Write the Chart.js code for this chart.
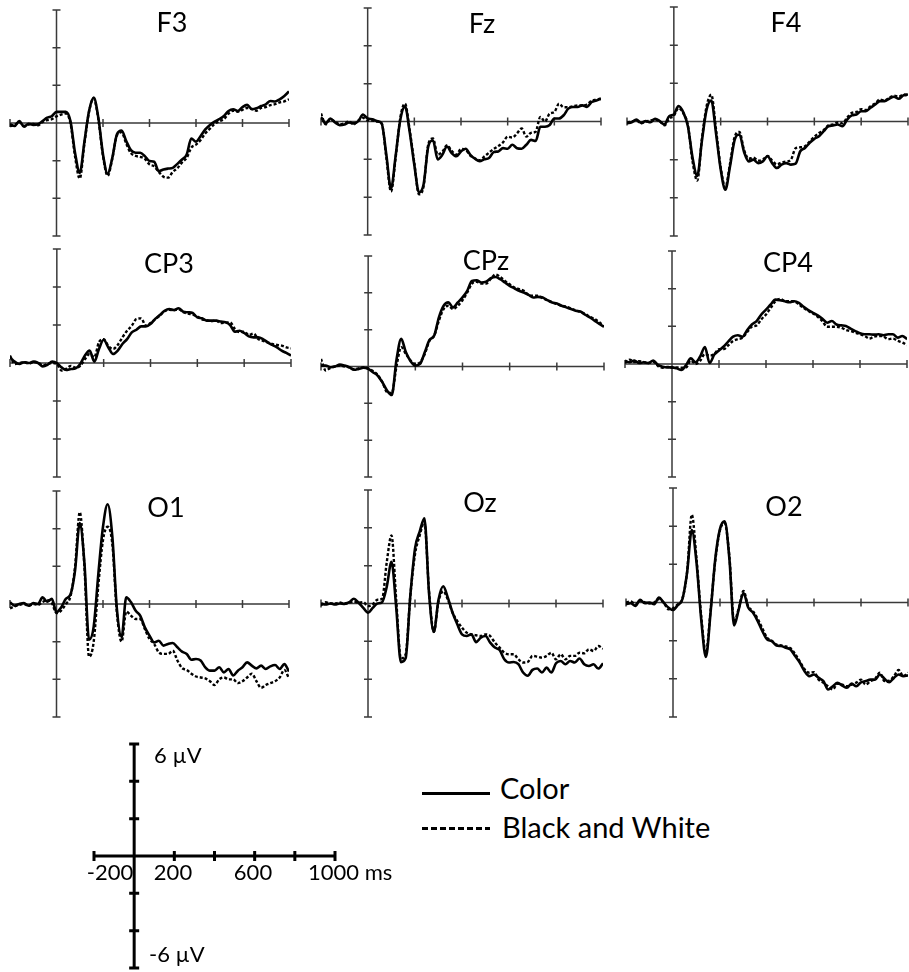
<!DOCTYPE html>
<html>
<head>
<meta charset="utf-8">
<script src="https://cdn.jsdelivr.net/npm/chart.js@4.4.0/dist/chart.umd.min.js"></script>
<style>
  body { margin: 0; background: #fff; width: 909px; height: 972px; position: relative; overflow: hidden; font-family: Lato, 'Noto Sans', sans-serif; }
  canvas { position: absolute; }
  .lbl { position: absolute; line-height: 1; white-space: nowrap; color: #000; }
  .title { font-size: 27px; width: 80px; text-align: center; }
  .scale { font-size: 22px; }
  .legend { font-size: 29px; }
  .swatch { position: absolute; left: 422px; width: 68px; height: 3px; }
</style>
</head>
<body>
<script>
  // sample times (ms)
  const times = [
    -200, -180, -160, -140, -120, -100, -80, -60, -40, -20,
    0, 20, 40, 60, 80, 100, 120, 140, 160, 180,
    200, 220, 240, 260, 280, 300, 320, 340, 360, 380,
    400, 420, 440, 460, 480, 500, 520, 540, 560, 580,
    600, 620, 640, 660, 680, 700, 720, 740, 760, 780,
    800, 820, 840, 860, 880, 900, 920, 940, 960, 980,
    1000,
  ];

  const xTicks = [-200, 0, 200, 400, 600, 800, 1000];
  const yTicks = [-6, -4, -2, 0, 2, 4, 6];

  // amplitudes (µV), Color = solid, BW = dotted
  const f3Color = [
    -0.07, -0.16, 0.1, -0.2, -0.04, -0.1, -0.07, 0.1, 0.28, 0.37,
    0.59, 0.59, 0.59, 0.1, -1.6, -2.65, -1.0, 0.64, 1.35, 0.28,
    -1.67, -2.7, -1.85, -0.6, -0.4, -0.96, -1.44, -1.58, -1.58, -1.76,
    -2.02, -2.06, -2.56, -2.47, -2.42, -2.38, -2.17, -1.94, -1.67, -0.82,
    -0.99, -0.69, -0.34, -0.1, 0.07, 0.2, 0.37, 0.64, 0.73, 0.64,
    0.85, 0.96, 0.73, 0.78, 0.9, 0.99, 1.17, 1.14, 1.26, 1.44,
    1.67,
  ];
  const f3BW = [
    -0.16, -0.1, 0.05, -0.15, -0.08, -0.05, -0.12, 0.05, 0.15, 0.2,
    0.35, 0.45, 0.5, 0.0, -1.8, -2.95, -1.1, 0.6, 1.3, 0.2,
    -1.75, -2.8, -1.9, -0.65, -0.5, -1.1, -1.6, -1.75, -1.8, -1.9,
    -2.2, -2.3, -2.6, -2.85, -2.9, -2.6, -2.4, -2.1, -1.85, -1.3,
    -1.15, -0.9, -0.55, -0.3, -0.05, 0.1, 0.2, 0.5, 0.65, 0.6,
    0.7, 0.8, 0.75, 0.65, 0.8, 0.85, 0.95, 1.0, 1.1, 1.15,
    1.26,
  ];
  const fzColor = [
    0.24, -0.1, 0.16, -0.05, -0.19, -0.16, -0.05, -0.1, 0.02, 0.37,
    0.16, 0.12, 0.02, -0.1, -1.76, -3.55, -1.8, 0.1, 0.8, -0.55,
    -2.3, -3.75, -3.3, -1.3, -1.0, -2.0, -1.76, -1.32, -1.67, -1.84,
    -1.58, -1.44, -1.76, -1.97, -2.1, -2.0, -1.93, -1.62, -1.58, -1.41,
    -1.44, -1.23, -1.41, -1.44, -1.23, -0.97, -1.03, -0.28, -0.28, -0.19,
    0.16, 0.16, 0.33, 0.68, 0.77, 0.77, 0.85, 0.77, 1.03, 1.11,
    1.2,
  ];
  const fzBW = [
    0.42, -0.15, 0.1, 0.0, -0.15, -0.1, 0.0, -0.15, 0.05, 0.2,
    0.05, 0.05, 0.0, -0.1, -1.9, -3.7, -1.9, 0.2, 0.95, -0.45,
    -2.2, -3.85, -3.4, -1.2, -0.9, -1.75, -1.6, -1.25, -1.55, -1.75,
    -1.45, -1.5, -1.8, -1.95, -2.05, -1.85, -1.65, -1.45, -1.3, -1.1,
    -0.8, -0.85, -0.63, -0.37, -0.8, -0.6, -0.54, 0.24, 0.0, 0.42,
    0.5, 0.94, 0.75, 0.75, 0.8, 0.85, 0.85, 0.9, 1.1, 1.15,
    1.22,
  ];
  const f4Color = [
    -0.1, -0.04, 0.1, -0.07, 0.02, -0.04, 0.14, 0.02, -0.16, 0.28,
    0.37, 0.81, 0.49, -0.25, -1.9, -2.85, -1.0, 0.63, 1.1, -0.6,
    -2.5, -3.58, -2.35, -0.95, -0.68, -1.6, -2.09, -2.0, -2.18, -2.09,
    -1.82, -2.18, -2.44, -2.26, -2.18, -2.26, -2.21, -1.56, -1.39, -1.12,
    -0.91, -0.77, -0.51, -0.25, -0.21, -0.16, -0.25, 0.1, 0.32, 0.37,
    0.54, 0.54, 0.72, 0.89, 1.07, 1.07, 1.19, 1.3, 1.19, 1.37,
    1.42,
  ];
  const f4BW = [
    -0.05, 0.0, 0.05, -0.1, 0.0, 0.05, 0.1, 0.0, -0.2, 0.15,
    0.3, 0.7, 0.45, -0.2, -2.1, -3.1, -0.9, 0.8, 1.4, -0.4,
    -2.4, -3.45, -2.2, -0.8, -0.55, -1.5, -1.95, -1.9, -2.05, -2.0,
    -1.8, -2.05, -2.25, -2.15, -2.1, -2.0, -1.4, -1.35, -1.3, -1.05,
    -0.8, -0.6, -0.45, -0.2, -0.15, -0.05, -0.1, 0.2, 0.45, 0.5,
    0.65, 0.6, 0.8, 0.95, 1.15, 1.1, 1.25, 1.35, 1.3, 1.4,
    1.35,
  ];
  const cp3Color = [
    0.3, 0.07, -0.05, 0.04, 0.0, 0.07, 0.0, -0.18, -0.1, 0.07,
    0.0, -0.23, -0.37, -0.32, -0.28, -0.05, 0.39, 0.65, 0.07, 0.74,
    1.22, 0.82, 0.47, 0.65, 1.0, 1.26, 1.61, 1.75, 1.93, 1.93,
    2.05, 2.32, 2.53, 2.75, 2.84, 2.79, 2.88, 2.7, 2.67, 2.63,
    2.4, 2.35, 2.23, 2.23, 2.23, 2.18, 2.14, 2.0, 1.65, 1.7,
    1.58, 1.4, 1.35, 1.35, 1.26, 1.09, 0.95, 0.82, 0.65, 0.53,
    0.39,
  ];
  const cp3BW = [
    0.39, -0.05, 0.0, 0.05, -0.03, 0.05, 0.02, -0.12, -0.05, 0.0,
    -0.05, -0.4, -0.3, -0.15, -0.25, -0.15, 0.2, 0.47, 0.3, 1.1,
    1.25, 0.9, 0.74, 0.95, 1.35, 1.7, 1.96, 2.32, 2.35, 1.96,
    2.1, 2.3, 2.5, 2.72, 2.8, 2.78, 2.82, 2.68, 2.6, 2.55,
    2.45, 2.3, 2.25, 2.2, 2.23, 2.1, 2.12, 2.14, 1.8, 1.62,
    1.65, 1.47, 1.55, 1.26, 1.17, 1.09, 1.0, 0.95, 0.91, 0.82,
    0.77,
  ];
  const cpzColor = [
    0.05, 0.05, -0.04, 0.0, 0.1, 0.05, -0.04, -0.18, -0.13, -0.07,
    -0.13, -0.31, -0.49, -0.85, -1.3, -1.55, 0.35, 1.5, 0.77, 0.29,
    0.05, 0.14, 0.77, 1.44, 1.68, 2.67, 3.3, 3.48, 3.21, 3.48,
    3.75, 4.11, 4.65, 4.68, 4.56, 4.61, 4.79, 4.86, 4.74, 4.56,
    4.38, 4.25, 4.11, 4.02, 3.89, 3.75, 3.78, 3.75, 3.6, 3.48,
    3.42, 3.3, 3.21, 3.12, 3.03, 2.99, 2.81, 2.67, 2.49, 2.31,
    2.16,
  ];
  const cpzBW = [
    0.41, -0.22, -0.07, 0.0, 0.05, 0.0, -0.05, -0.15, -0.1, -0.05,
    -0.1, -0.25, -0.45, -0.85, -1.39, -1.44, 0.0, 1.05, 0.68, 0.32,
    0.14, 0.23, 0.68, 1.4, 1.68, 2.49, 3.12, 3.3, 3.12, 3.3,
    3.6, 4.02, 4.5, 4.6, 4.5, 4.5, 4.77, 5.0, 4.86, 4.65,
    4.47, 4.29, 4.2, 4.11, 3.89, 3.84, 3.84, 3.71, 3.6, 3.48,
    3.39, 3.3, 3.25, 3.15, 3.05, 2.95, 2.85, 2.7, 2.58, 2.4,
    2.16,
  ];
  const cp4Color = [
    0.18, 0.09, 0.18, 0.05, 0.09, 0.05, 0.18, -0.05, -0.14, -0.18,
    -0.18, -0.23, -0.32, -0.05, 0.3, 0.09, 0.4, 0.9, 0.05, 0.5,
    0.72, 0.93, 1.2, 1.45, 1.53, 1.45, 1.8, 2.1, 2.28, 2.63,
    2.89, 3.16, 3.42, 3.39, 3.33, 3.28, 3.33, 3.25, 3.04, 2.86,
    2.72, 2.58, 2.4, 2.19, 2.28, 2.1, 2.05, 2.02, 1.88, 1.75,
    1.63, 1.58, 1.58, 1.56, 1.58, 1.53, 1.58, 1.58, 1.4, 1.49,
    1.32,
  ];
  const cp4BW = [
    0.05, 0.23, 0.1, 0.15, 0.1, 0.05, 0.12, -0.1, -0.2, -0.15,
    -0.2, -0.18, -0.2, -0.18, 0.18, 0.0, 0.18, 0.53, 0.44, 0.53,
    0.79, 0.79, 1.0, 1.23, 1.32, 1.4, 1.7, 1.98, 2.05, 2.37,
    2.63, 2.98, 3.33, 3.46, 3.33, 3.33, 3.33, 3.16, 2.98, 2.81,
    2.68, 2.51, 2.28, 1.98, 1.98, 1.98, 1.93, 1.81, 1.75, 1.67,
    1.58, 1.49, 1.35, 1.46, 1.49, 1.46, 1.32, 1.35, 1.23, 1.14,
    1.0,
  ];
  const o1Color = [
    0.09, -0.09, 0.0, 0.05, -0.09, 0.05, 0.0, 0.35, 0.12, 0.27,
    -0.44, -0.18, 0.27, 0.5, 1.8, 4.3, 2.2, -1.9, -1.2, 1.6,
    4.1, 5.3, 3.6, -0.3, -1.75, 0.35, 0.1, -0.35, -0.62, -1.24,
    -1.68, -2.04, -1.95, -2.21, -2.12, -2.07, -2.3, -2.53, -2.65, -2.96,
    -2.92, -3.0, -3.36, -3.54, -3.54, -3.36, -3.63, -3.45, -3.8, -3.54,
    -3.36, -3.1, -3.27, -3.42, -3.27, -3.45, -3.31, -3.24, -3.45, -3.19,
    -3.59,
  ];
  const o1BW = [
    -0.23, -0.12, -0.05, 0.0, -0.1, 0.0, -0.05, 0.1, 0.2, 0.05,
    -0.48, -0.35, 0.0, 0.4, 2.0, 4.87, 2.0, -2.8, -2.0, 1.0,
    3.4, 4.1, 3.2, -0.5, -2.0, -0.4, -0.62, -0.8, -0.8, -1.33,
    -1.86, -2.12, -2.57, -2.65, -2.65, -2.48, -3.0, -3.4, -3.5, -3.7,
    -3.85, -3.9, -3.95, -4.1, -4.3, -4.0, -3.9, -4.0, -4.0, -4.2,
    -4.1, -3.9, -3.7, -4.1, -4.45, -4.3, -4.2, -4.1, -3.9, -3.5,
    -3.95,
  ];
  const ozColor = [
    0.0, -0.05, 0.0, -0.05, 0.0, -0.02, 0.07, 0.25, 0.04, -0.23,
    -0.49, -0.23, 0.0, 0.07, 0.9, 2.2, -0.2, -3.1, -2.9, 0.4,
    2.9, 3.8, 4.5, 0.5, -1.5, 0.2, 0.91, 0.3, -0.49, -1.1,
    -1.63, -1.72, -1.63, -2.04, -1.81, -1.72, -2.07, -2.33, -2.46, -2.95,
    -3.12, -3.09, -3.21, -3.65, -3.82, -3.51, -3.44, -3.65, -3.39, -3.65,
    -3.16, -3.04, -3.21, -3.04, -3.12, -2.91, -3.21, -3.3, -3.21, -3.44,
    -3.16,
  ];
  const ozBW = [
    -0.1, 0.07, 0.0, 0.0, 0.05, 0.0, 0.05, 0.1, 0.05, 0.07,
    -0.14, -0.05, 0.2, 0.25, 2.2, 3.6, 0.2, -2.9, -2.7, 0.4,
    2.6, 3.6, 4.3, 0.6, -1.5, 0.1, 0.65, 0.2, -0.49, -0.93,
    -1.28, -1.54, -1.63, -1.68, -1.72, -1.63, -1.72, -2.07, -2.33, -2.6,
    -2.68, -2.68, -2.95, -3.12, -3.09, -2.77, -2.81, -2.86, -2.77, -2.6,
    -2.95, -2.68, -2.95, -2.77, -2.77, -2.6, -2.63, -2.42, -2.51, -2.25,
    -2.39,
  ];
  const o2Color = [
    -0.09, -0.04, -0.18, 0.14, -0.04, 0.0, -0.09, 0.26, 0.0, -0.26,
    -0.39, -0.14, 0.18, 1.58, 3.8, 2.1, -0.88, -2.85, -0.5, 2.3,
    3.86, 4.25, 2.28, -1.2, -0.35, 0.5, -0.26, -0.53, -0.96, -1.49,
    -1.93, -2.02, -2.25, -2.28, -2.37, -2.46, -2.81, -3.16, -3.6, -3.86,
    -3.77, -3.95, -4.12, -4.56, -4.39, -4.21, -4.35, -4.47, -4.25, -4.39,
    -4.18, -4.12, -4.04, -4.04, -3.77, -4.0, -4.18, -3.95, -3.77, -3.86,
    -3.82,
  ];
  const o2BW = [
    0.0, 0.05, -0.1, 0.1, 0.0, -0.05, 0.0, 0.18, 0.0, -0.35,
    -0.3, -0.1, 0.2, 1.6, 4.6, 2.3, -0.7, -2.63, -0.4, 2.2,
    3.8, 4.15, 2.4, -1.0, -0.3, 0.6, -0.2, -0.45, -0.85, -1.35,
    -1.84, -2.0, -2.2, -2.25, -2.3, -2.4, -2.7, -3.1, -3.5, -3.68,
    -3.65, -4.04, -4.2, -4.39, -4.56, -4.25, -4.3, -4.39, -4.3, -4.2,
    -4.04, -4.3, -4.12, -4.0, -3.68, -4.12, -4.1, -3.86, -3.54, -3.86,
    -3.68,
  ];

  // layout: box = [x of -200 ms, x of 1000 ms, y of +6 µV, y of -6 µV], title = centre
  const panels = [
    { name: 'F3', color: f3Color, bw: f3BW, box: [10, 289, 10, 236], title: [172, 22] },
    { name: 'Fz', color: fzColor, bw: fzBW, box: [321, 601, 8, 235], title: [482, 23] },
    { name: 'F4', color: f4Color, bw: f4BW, box: [627, 908, 7, 236], title: [786, 22] },
    { name: 'CP3', color: cp3Color, bw: cp3BW, box: [10, 291, 249, 477], title: [169, 263] },
    { name: 'CPz', color: cpzColor, bw: cpzBW, box: [321, 604, 256, 477], title: [486, 260] },
    { name: 'CP4', color: cp4Color, bw: cp4BW, box: [625, 907, 251, 477], title: [788, 262] },
    { name: 'O1', color: o1Color, bw: o1BW, box: [10, 289, 491, 717], title: [166, 507] },
    { name: 'Oz', color: ozColor, bw: ozBW, box: [321, 603, 490, 717], title: [480, 502] },
    { name: 'O2', color: o2Color, bw: o2BW, box: [626, 908, 488, 717], title: [784, 506] },
  ];

  const PAD = 6;

  const crossAxes = {
    id: 'crossAxes',
    beforeDatasetsDraw(chart, args, opts) {
      const { ctx } = chart;
      const { x, y } = chart.scales;
      const x0 = x.getPixelForValue(0);
      const y0 = y.getPixelForValue(0);
      ctx.save();
      ctx.strokeStyle = opts.color;
      ctx.lineWidth = opts.width;
      ctx.beginPath();
      ctx.moveTo(x.getPixelForValue(xTicks[0]), y0);
      ctx.lineTo(x.getPixelForValue(xTicks[xTicks.length - 1]), y0);
      xTicks.forEach((t) => {
        if (t === 0) return;
        const px = x.getPixelForValue(t);
        ctx.moveTo(px, y0 - opts.tick);
        ctx.lineTo(px, y0 + opts.tick);
      });
      ctx.moveTo(x0, y.getPixelForValue(yTicks[0]));
      ctx.lineTo(x0, y.getPixelForValue(yTicks[yTicks.length - 1]));
      yTicks.forEach((v) => {
        if (v === 0) return;
        const py = y.getPixelForValue(v);
        ctx.moveTo(x0 - opts.tick, py);
        ctx.lineTo(x0 + opts.tick, py);
      });
      ctx.stroke();
      ctx.restore();
    },
  };

  const toPoints = (values) => times.map((t, i) => ({ x: t, y: values[i] }));

  function addCanvas(box) {
    const [left, right, top, bottom] = box;
    const canvas = document.createElement('canvas');
    const w = right - left + 2 * PAD;
    const h = bottom - top + 2 * PAD;
    canvas.width = w;
    canvas.height = h;
    canvas.style.width = w + 'px';
    canvas.style.height = h + 'px';
    canvas.style.left = left - PAD + 'px';
    canvas.style.top = top - PAD + 'px';
    document.body.appendChild(canvas);
    return canvas;
  }

  function addLabel(text, cls, left, top) {
    const div = document.createElement('div');
    div.className = 'lbl ' + cls;
    div.textContent = text;
    div.style.left = left + 'px';
    div.style.top = top + 'px';
    document.body.appendChild(div);
    return div;
  }

  function makeChart(canvas, datasets, axisStyle) {
    // eslint-disable-next-line no-new
    new Chart(canvas.getContext('2d'), {
      type: 'line',
      data: { datasets },
      options: {
        responsive: false,
        animation: false,
        events: [],
        layout: { padding: PAD },
        plugins: {
          legend: { display: false },
          tooltip: { enabled: false },
          crossAxes: axisStyle,
        },
        scales: {
          x: { type: 'linear', min: -200, max: 1000, display: false },
          y: { type: 'linear', min: -6, max: 6, display: false },
        },
      },
      plugins: [crossAxes],
    });
  }

  panels.forEach((p) => {
    const canvas = addCanvas(p.box);
    makeChart(canvas, [
      {
        label: 'Black and White',
        data: toPoints(p.bw),
        borderColor: '#000',
        borderWidth: 2.4,
        borderDash: [3, 2],
        pointRadius: 0,
        cubicInterpolationMode: 'monotone',
      },
      {
        label: 'Color',
        data: toPoints(p.color),
        borderColor: '#000',
        borderWidth: 2.6,
        pointRadius: 0,
        cubicInterpolationMode: 'monotone',
      },
    ], { color: '#3a3a3a', width: 1.5, tick: 4 });
    addLabel(p.name, 'title', p.title[0] - 40, p.title[1] - 14);
  });

  // scale bar
  makeChart(addCanvas([94, 335, 744, 968]), [], { color: '#000', width: 3, tick: 5 });
  addLabel('6 µV', 'scale', 154, 744);
  addLabel('-6 µV', 'scale', 149, 943);
  const scaleTicks = [['-200', 110], ['200', 173], ['600', 253]];
  scaleTicks.forEach(([txt, cx]) => {
    const d = addLabel(txt, 'scale', cx - 30, 861);
    d.style.width = '60px';
    d.style.textAlign = 'center';
  });
  addLabel('1000 ms', 'scale', 308, 861);

  // legend
  const solid = document.createElement('div');
  solid.className = 'swatch';
  solid.style.top = '792px';
  solid.style.background = '#000';
  document.body.appendChild(solid);
  const dotted = document.createElement('div');
  dotted.className = 'swatch';
  dotted.style.top = '827px';
  dotted.style.background = 'repeating-linear-gradient(90deg, #000 0 6px, transparent 6px 9px)';
  document.body.appendChild(dotted);
  addLabel('Color', 'legend', 500, 773);
  addLabel('Black and White', 'legend', 502, 812);
</script>
</body>
</html>
